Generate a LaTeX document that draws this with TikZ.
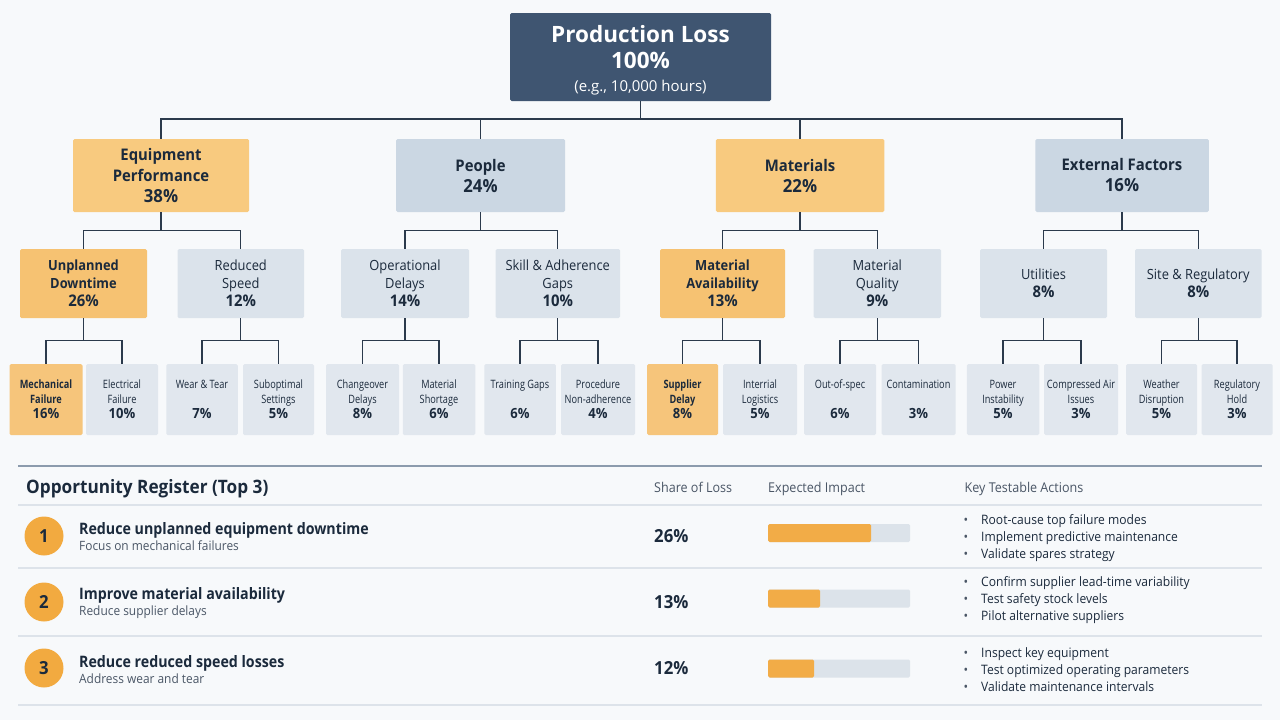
\documentclass[tikz,border=0pt]{standalone}
\usepackage{fontspec}
\setmainfont{Open Sans}[FakeStretch=0.93]
\newfontfamily\topfont{Open Sans}
\newfontfamily\leaffont{Open Sans}[FakeStretch=0.8]
\newfontfamily\midfont{Open Sans}[FakeStretch=0.92]
\newfontfamily\rowfont{Open Sans}[FakeStretch=0.9]
\definecolor{bg}{HTML}{F7F9FB}
\definecolor{topc}{HTML}{3F5571}
\definecolor{orA}{HTML}{F8CA7F}
\definecolor{orB}{HTML}{F6C272}
\definecolor{orC}{HTML}{F6C57B}
\definecolor{blA}{HTML}{CBD7E3}
\definecolor{blB}{HTML}{DBE3EB}
\definecolor{blC}{HTML}{E1E7EE}
\definecolor{ln}{HTML}{2B3A4C}
\definecolor{txt}{HTML}{1B2A3C}
\definecolor{subt}{HTML}{4A5666}
\definecolor{sepc}{HTML}{DDE3EA}
\definecolor{headc}{HTML}{8C9BAD}
\definecolor{barO}{HTML}{F2AC47}
\definecolor{barB}{HTML}{DCE3EA}
\definecolor{circ}{HTML}{F2AA40}
\newcommand\fsz[2]{\fontsize{#1}{#2}\selectfont}
\newcommand\lpct[1]{{\rmfamily\fsz{14}{15}\bfseries #1}}
\newcommand\mpct[1]{{\rmfamily\fsz{16}{18}\bfseries #1}}
\tikzset{
  box/.style={rounded corners=1.5pt, inner sep=0pt, align=center, text=txt},
  lone/.style={box, minimum height=73, font=\fsz{16}{21}\bfseries},
  ltwo/.style={box, minimum height=69, font=\midfont\fsz{14}{18}},
  ltwob/.style={ltwo, font=\midfont\fsz{14}{18}\bfseries},
  leafbox/.style={box, minimum height=71, font=\leaffont\fsz{11.5}{15}},
  leafboxb/.style={leafbox, font=\leaffont\fsz{11.5}{15}\bfseries},
  conn/.style={draw=ln, line width=1.35pt},
  sepline/.style={draw=sepc, line width=1.2pt},
  txtnode/.style={inner sep=0pt, text=txt},
}
\begin{document}
\begin{tikzpicture}[x=1pt, y=-1pt]
\fill[bg] (0,0) rectangle (1280,720);
\useasboundingbox (0,0) rectangle (1280,720);

% ---------- top ----------
\node[box, fill=topc, text=white, minimum width=261, minimum height=88, font=\topfont\fsz{22.5}{26}\bfseries] (top) at (640.5,57)
  {\rule{0pt}{24pt}Production Loss\\100\%\\[-3pt]{\topfont\mdseries\fsz{15}{18}(e.g., 10,000 hours)}};

% ---------- level 1 ----------
\node[lone, fill=orA, minimum width=176] (eq) at (161,175.5)
  {Equipment\\Performance\\{\fsz{18}{22}\bfseries 38\%}};
\node[lone, fill=blA, minimum width=169] (pe) at (480.5,175.5)
  {People\\{\fsz{18}{23}\bfseries 24\%}};
\node[lone, fill=orA, minimum width=168.5] (mt) at (800,175.5)
  {Materials\\{\fsz{18}{23}\bfseries 22\%}};
\node[lone, fill=blA, minimum width=173.5] (ex) at (1122,175.5)
  {External Factors\\{\fsz{18}{23}\bfseries 16\%}};

\coordinate (j0) at (640.5,119);
\draw[conn] (top.south) -- (j0);
\foreach \n in {eq,pe,mt,ex} \draw[conn] (j0) -| (\n.north);

% ---------- level 2 ----------
\node[ltwob, fill=orB, minimum width=127] (ud) at (83.5,283.5) {Unplanned\\Downtime\\\mpct{26\%}};
\node[ltwo, fill=blB, minimum width=126.5] (rs) at (240.75,283.5) {Reduced\\Speed\\\mpct{12\%}};
\node[ltwo, fill=blB, minimum width=128] (od) at (405,283.5) {Operational\\Delays\\\mpct{14\%}};
\node[ltwo, fill=blB, minimum width=124.5] (sk) at (557.75,283.5) {Skill \& Adherence\\Gaps\\\mpct{10\%}};
\node[ltwob, fill=orB, minimum width=125] (ma) at (722.5,283.5) {Material\\Availability\\\mpct{13\%}};
\node[ltwo, fill=blB, minimum width=127.5] (mq) at (877.25,283.5) {Material\\Quality\\\mpct{9\%}};
\node[ltwo, fill=blB, minimum width=127] (ut) at (1043.5,283.5) {Utilities\\\mpct{8\%}};
\node[ltwo, fill=blB, minimum width=126.6] (sr) at (1198.3,283.5) {Site \& Regulatory\\\mpct{8\%}};

\foreach \p/\a/\b in {eq/ud/rs, pe/od/sk, mt/ma/mq, ex/ut/sr}{
  \draw[conn] (\p.south) -- ++(0,18) -| (\a.north);
  \draw[conn] (\p.south) -- ++(0,18) -| (\b.north);
}

% ---------- leaves ----------
\node[leafboxb, fill=orC, minimum width=73] (mf) at (46,399.5) {Mechanical\\Failure\\\lpct{16\%}};
\node[leafbox, fill=blC, minimum width=72] (ef) at (122,399.5) {Electrical\\Failure\\\lpct{10\%}};
\node[leafbox, fill=blC, minimum width=71.5] (wt) at (202,399.5) {Wear \& Tear\\\strut\\\lpct{7\%}};
\node[leafbox, fill=blC, minimum width=71] (so) at (278.5,399.5) {Suboptimal\\Settings\\\lpct{5\%}};
\node[leafbox, fill=blC, minimum width=73] (cd) at (362.5,399.5) {Changeover\\Delays\\\lpct{8\%}};
\node[leafbox, fill=blC, minimum width=72.5] (ms) at (439,399.5) {Material\\Shortage\\\lpct{6\%}};
\node[leafbox, fill=blC, minimum width=71.5] (tg) at (520,399.5) {Training Gaps\\\strut\\\lpct{6\%}};
\node[leafbox, fill=blC, minimum width=74] (pn) at (598,399.5) {Procedure\\Non-adherence\\\lpct{4\%}};
\node[leafboxb, fill=orC, minimum width=71] (sd) at (682.5,399.5) {Supplier\\Delay\\\lpct{8\%}};
\node[leafbox, fill=blC, minimum width=74] (il) at (760,399.5) {Interrial\\Logistics\\\lpct{5\%}};
\node[leafbox, fill=blC, minimum width=72] (os) at (840,399.5) {Out-of-spec\\\strut\\\lpct{6\%}};
\node[leafbox, fill=blC, minimum width=74] (ct) at (918.5,399.5) {Contamination\\\strut\\\lpct{3\%}};
\node[leafbox, fill=blC, minimum width=72.5] (pi) at (1003,399.5) {Power\\Instability\\\lpct{5\%}};
\node[leafbox, fill=blC, minimum width=74] (ca) at (1081,399.5) {Compressed Air\\Issues\\\lpct{3\%}};
\node[leafbox, fill=blC, minimum width=71] (wd) at (1161.5,399.5) {Weather\\Disruption\\\lpct{5\%}};
\node[leafbox, fill=blC, minimum width=71] (rh) at (1237,399.5) {Regulatory\\Hold\\\lpct{3\%}};

\foreach \p/\a/\b in {ud/mf/ef, rs/wt/so, od/cd/ms, sk/tg/pn, ma/sd/il, mq/os/ct, ut/pi/ca, sr/wd/rh}{
  \draw[conn] (\p.south) -- ++(0,22) -| (\a.north);
  \draw[conn] (\p.south) -- ++(0,22) -| (\b.north);
}

% ---------- opportunity register ----------
\draw[draw=headc, line width=1.3pt] (18,466) -- (1262,466);
\foreach \yy in {505,568,636,705} \draw[sepline] (18,\yy) -- (1262,\yy);

\node[txtnode, anchor=base west] (regtitle) at (26,493.5) {\fsz{18.5}{20}\bfseries Opportunity Register (Top 3)};
\node[txtnode, anchor=base west, text=subt] (hshare) at (654,492.5) {\fsz{13.5}{15}Share of Loss};
\node[txtnode, anchor=base west, text=subt] (himpact) at (768,492.5) {\fsz{13.5}{15}Expected Impact};
\node[txtnode, anchor=base west, text=subt] (hact) at (964.5,492.5) {\fsz{13.5}{15}Key Testable Actions};

% rows
\foreach \i/\cy/\ty/\sy/\bt/\bb/\be/\pct/\title/\subtitle in {
  1/536/534/550.5/524/542/871/26/Reduce unplanned equipment downtime/Focus on mechanical failures,
  2/602/599/615.5/589.5/607.5/820/13/Improve material availability/Reduce supplier delays,
  3/668/667/683.5/659.5/677.5/814/12/Reduce reduced speed losses/Address wear and tear}{
  \node[circle, fill=circ, minimum size=39, inner sep=0pt, text=txt] (num\i) at (44,\cy) {\fsz{18}{20}\bfseries\i};
  \node[txtnode, anchor=base west] (rtitle\i) at (79,\ty) {\rowfont\fsz{15.8}{18}\bfseries\title};
  \node[txtnode, anchor=base west, text=subt] (rsub\i) at (79,\sy) {\fsz{12.8}{15}\subtitle};
  \node[txtnode, anchor=base west] (rpct\i) at (654,\cy+6.5) {\fsz{18}{20}\bfseries\pct\%};
  \fill[barB, rounded corners=1.5pt] (768,\bt) rectangle (910,\bb);
  \fill[barO, rounded corners=1.5pt] (768,\bt) rectangle (\be,\bb);
}

% actions
\foreach \k/\yy/\t in {a/524.6/Root-cause top failure modes, b/541.6/Implement predictive maintenance, c/558.6/Validate spares strategy,
  d/586.6/Confirm supplier lead-time variability, e/603.6/Test safety stock levels, f/620.6/Pilot alternative suppliers,
  g/657.6/Inspect key equipment, h/674.6/Test optimized operating parameters, i/691.6/Validate maintenance intervals}{
  \node[txtnode, anchor=base, text=subt] (bul\k) at (966,\yy) {\fsz{13}{15}\textbullet};
  \node[txtnode, anchor=base west] (act\k) at (981,\yy) {\fsz{13}{15}\t};
}
\end{tikzpicture}
\end{document}
